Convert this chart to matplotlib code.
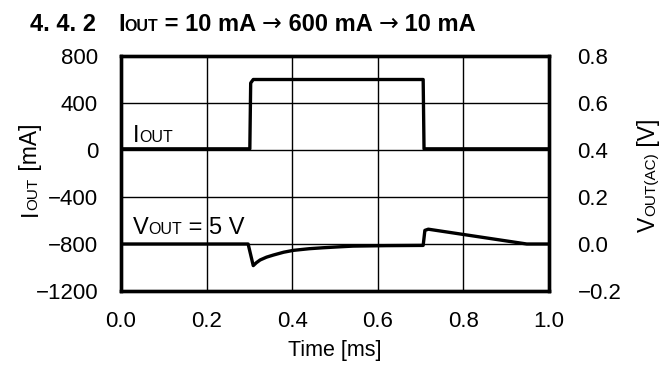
import matplotlib
matplotlib.use('Agg')
import matplotlib.pyplot as plt
from matplotlib.transforms import offset_copy, IdentityTransform
from matplotlib.ticker import FixedLocator, FuncFormatter

plt.rcParams['font.family'] = ['Liberation Sans', 'DejaVu Sans']
plt.rcParams['axes.unicode_minus'] = True

# ---- data ----
time_iout = [0.0, 0.301, 0.303, 0.309, 0.706, 0.708, 1.0]
iout_ma = [10, 10, 570, 600, 600, 10, 10]

time_vout = [0.0, 0.297, 0.309, 0.316, 0.325, 0.340, 0.356, 0.380, 0.403, 0.440,
             0.472, 0.510, 0.542, 0.62, 0.706, 0.710, 0.718, 0.948, 1.0]
vout_ac = [0.0, 0.0, -0.092, -0.080, -0.068, -0.056, -0.047, -0.035, -0.027, -0.020,
           -0.016, -0.012, -0.009, -0.007, -0.006, 0.058, 0.063, 0.0, 0.0]

x_ticks = [0.0, 0.2, 0.4, 0.6, 0.8, 1.0]
iout_ticks = [-1200, -800, -400, 0, 400, 800]
vout_ticks = [-0.2, 0.0, 0.2, 0.4, 0.6, 0.8]

W, H = 664, 369
fig = plt.figure(figsize=(W / 100, H / 100), dpi=100)
ax = fig.add_axes([121 / W, 1 - 291 / H, (549 - 121) / W, (291 - 56) / H])
ax2 = ax.twinx()

ax.plot(time_iout, iout_ma, color='black', lw=2.4, solid_joinstyle='round', zorder=3)
ax2.plot(time_vout, vout_ac, color='black', lw=2.4, solid_joinstyle='round', zorder=3)

ax.set_xlim(0, 1)
ax.set_ylim(-1200, 800)
ax2.set_ylim(-0.2, 0.8)
ax.xaxis.set_major_locator(FixedLocator(x_ticks))
ax.yaxis.set_major_locator(FixedLocator(iout_ticks))
ax2.yaxis.set_major_locator(FixedLocator(vout_ticks))
fmt1 = FuncFormatter(lambda v, p: f'{v:.1f}'.replace('-', '\u2212'))
fmt0 = FuncFormatter(lambda v, p: f'{v:.0f}'.replace('-', '\u2212'))
ax.xaxis.set_major_formatter(fmt1)
ax.yaxis.set_major_formatter(fmt0)
ax2.yaxis.set_major_formatter(fmt1)
ax.grid(True, color='black', lw=1.0)
ax.set_axisbelow(True)

TICK = 16
ax.tick_params(axis='x', length=0, pad=14.5, labelsize=TICK)
ax.tick_params(axis='y', length=0, pad=16.5, labelsize=TICK)
ax2.tick_params(axis='y', length=0, pad=20.5, labelsize=TICK)
for a in (ax, ax2):
    for s in a.spines.values():
        s.set_linewidth(2.4)
ax.set_xlabel('Time [ms]', fontsize=15.5, labelpad=6)

fig.canvas.draw()
renderer = fig.canvas.get_renderer()


def advance(s, size, weight, family):
    t = fig.text(0, 0, '|' + s + '|', fontsize=size, fontweight=weight, family=family)
    t2 = fig.text(0, 0, '||', fontsize=size, fontweight=weight, family=family)
    w = t.get_window_extent(renderer).width - t2.get_window_extent(renderer).width
    t.remove()
    t2.remove()
    return w


def rich(x, y, pieces, transform, rotation=0, center=False):
    pieces = [p if len(p) == 4 else p + ('Liberation Sans',) for p in pieces]
    lengths = [advance(s, sz, wt, fam) for s, sz, wt, fam in pieces]
    pos = -sum(lengths) / 2 if center else 0
    for (s, sz, wt, fam), L in zip(pieces, lengths):
        if rotation == 90:
            tr = offset_copy(transform, fig=fig, x=0, y=pos, units='dots')
        else:
            tr = offset_copy(transform, fig=fig, x=pos, y=0, units='dots')
        fig.text(x, y, s, transform=tr, fontsize=sz, fontweight=wt, family=fam,
                 rotation=rotation, rotation_mode='anchor', ha='left', va='baseline')
        pos += L


pix = IdentityTransform()
BIG, SMALL = 16.5, 11
TB, TS = 17, 11.5
# title
fig.text(30, H - 31, '4. 4. 2', transform=pix, fontsize=TB, fontweight='bold',
         ha='left', va='baseline')
rich(118, H - 31, [('I', TB, 'bold'), ('OUT', TS, 'bold'), (' = 10 mA ', TB, 'bold'),
                   ('\u2192', TB, 'normal', 'DejaVu Sans'), (' 600 mA ', TB, 'bold'),
                   ('\u2192', TB, 'normal', 'DejaVu Sans'), (' 10 mA', TB, 'bold')], pix)
# axis labels
rich(37, H - 170, [('I', BIG, 'normal'), ('OUT', SMALL, 'normal'), (' [mA]', BIG, 'normal')],
     pix, rotation=90, center=True)
rich(655, H - 175, [('V', BIG, 'normal'), ('OUT(AC)', SMALL, 'normal'), (' [V]', BIG, 'normal')],
     pix, rotation=90, center=True)
# in-plot labels
rich(0.028, 68, [('I', 17, 'normal'), ('OUT', 11.5, 'normal')], ax.transData)
rich(0.028, -715, [('V', 17, 'normal'), ('OUT', 11.5, 'normal'), (' = 5 V', 17, 'normal')],
     ax.transData)

fig.savefig('out.png', dpi=100)
